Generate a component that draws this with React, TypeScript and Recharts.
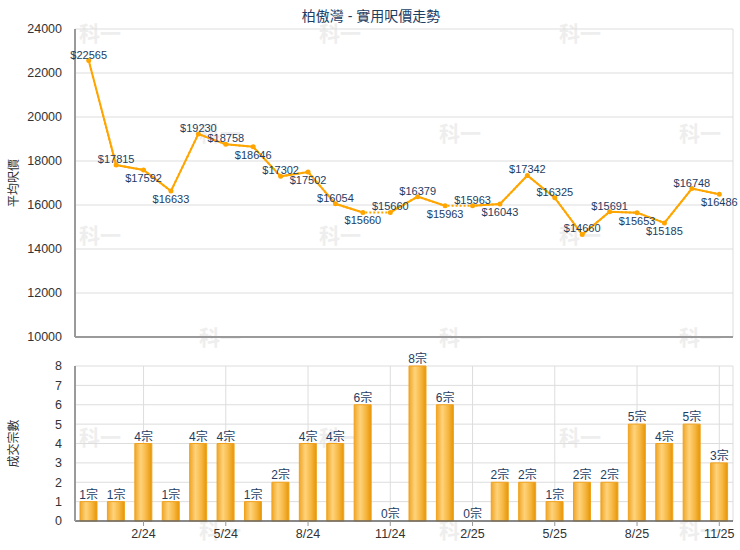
import { ComposedChart, Line, Bar, XAxis, YAxis, CartesianGrid, LabelList } from "recharts"

const MONTHS = [
  "12/23", "1/24", "2/24", "3/24", "4/24", "5/24", "6/24", "7/24", "8/24", "9/24", "10/24", "11/24",
  "12/24", "1/25", "2/25", "3/25", "4/25", "5/25", "6/25", "7/25", "8/25", "9/25", "10/25", "11/25",
]
const PRICES = [
  22565, 17815, 17592, 16633, 19230, 18758, 18646, 17302, 17502, 16054, 15660, 15660,
  16379, 15963, 15963, 16043, 17342, 16325, 14660, 15691, 15653, 15185, 16748, 16486,
]
const COUNTS = [1, 1, 4, 1, 4, 4, 1, 2, 4, 4, 6, 0, 8, 6, 0, 2, 2, 1, 2, 2, 5, 4, 5, 3]
const X_TICKS = ["2/24", "5/24", "8/24", "11/24", "2/25", "5/25", "8/25", "11/25"]
const PRICE_TICKS = [10000, 12000, 14000, 16000, 18000, 20000, 22000, 24000]
const COUNT_TICKS = [0, 1, 2, 3, 4, 5, 6, 7, 8]
// price labels drawn under the point instead of above
const LABEL_BELOW = [2, 3, 6, 8, 10, 13, 15, 20, 21, 23]

const ORANGE = "#FFA500"
const NAVY = "#1d3d63"
const FONT = "'Liberation Sans', Arial, 'Noto Sans CJK TC', sans-serif"

// a month with no deals carries the last price; the line into it is dotted
let seg = 0
const segOf = COUNTS.map((c, i) => {
  if (c === 0 && i > 0) seg++
  return seg
})
const SEG_KEYS = Array.from({ length: seg + 1 }, (_, k) => `s${k}`)

const data = MONTHS.map((month, i) => ({
  month,
  price: PRICES[i],
  count: COUNTS[i],
  [`s${segOf[i]}`]: PRICES[i],
}))

const WATERMARKS = [
  [100, 33], [340, 33], [580, 33],
  [220, 133], [460, 133], [700, 133],
  [100, 235], [340, 235], [580, 235],
  [220, 337], [460, 337], [700, 337],
  [100, 437], [340, 437], [580, 437],
  [220, 530], [460, 530], [700, 530],
]

const tickStyle = { fontSize: 12.5, fill: "#333", fontFamily: FONT }

function PriceLabel(props: any) {
  const { x, y, value, index } = props
  const below = LABEL_BELOW.includes(index)
  return (
    <text
      x={x}
      y={below ? y + 12 : y - 2}
      textAnchor="middle"
      fontSize={11}
      fill={NAVY}
      fontFamily={FONT}
    >
      ${value}
    </text>
  )
}

function CountLabel(props: any) {
  const { x, y, value } = props
  return (
    <text x={x} y={y - 3} textAnchor="middle" fontSize={12} fill={NAVY} fontFamily={FONT}>
      {value}宗
    </text>
  )
}

export default function App() {
  return (
    <div
      style={{
        position: "absolute",
        left: 0,
        top: 0,
        width: 740,
        height: 550,
        background: "#fff",
        fontFamily: FONT,
        overflow: "hidden",
      }}
    >
      <div
        style={{
          position: "absolute",
          top: 5,
          left: 0,
          width: 742,
          textAlign: "center",
          fontSize: 14,
          color: NAVY,
        }}
      >
        柏傲灣 - 實用呎價走勢
      </div>

      <svg
        width={740}
        height={550}
        style={{ position: "absolute", left: 0, top: 0, pointerEvents: "none" }}
      >
        {WATERMARKS.map(([x, y], i) => (
          <text
            key={i}
            x={x}
            y={y + 8}
            textAnchor="middle"
            fontSize={21}
            fontWeight="bold"
            fill="#eeeeee"
            fontFamily="'Noto Sans CJK TC', sans-serif"
          >
            科一
          </text>
        ))}
      </svg>

      <div style={{ position: "absolute", left: 0, top: 0 }}>
        <ComposedChart width={740} height={345} data={data} margin={{ top: 29, right: 7, bottom: 0, left: 0 }}>
          <CartesianGrid stroke="#dddddd" />
          <XAxis
            dataKey="month"
            scale="band"
            ticks={X_TICKS}
            interval={0}
            height={8}
            tick={false}
            tickLine={false}
            axisLine={{ stroke: "#9a9a9a", strokeWidth: 2 }}
          />
          <YAxis
            width={75}
            domain={[10000, 24000]}
            ticks={PRICE_TICKS}
            interval={0}
            tickLine={false}
            tickMargin={7}
            tick={tickStyle}
            axisLine={{ stroke: "#9a9a9a", strokeWidth: 2 }}
            label={{
              value: "平均呎價",
              angle: -90,
              position: "insideLeft",
              offset: 14,
              style: { textAnchor: "middle", fontSize: 12, fill: "#333", fontFamily: FONT },
            }}
          />
          <Line
            dataKey="price"
            stroke={ORANGE}
            strokeWidth={2}
            strokeDasharray="2 2"
            dot={{ r: 2.5, fill: ORANGE, stroke: "none" }}
            activeDot={false}
            isAnimationActive={false}
          >
            <LabelList dataKey="price" content={PriceLabel} />
          </Line>
          {SEG_KEYS.map((k) => (
            <Line
              key={k}
              dataKey={k}
              stroke={ORANGE}
              strokeWidth={2}
              dot={false}
              activeDot={false}
              connectNulls={false}
              isAnimationActive={false}
            />
          ))}
        </ComposedChart>
      </div>

      <div style={{ position: "absolute", left: 0, top: 345 }}>
        <ComposedChart width={740} height={205} data={data} margin={{ top: 21, right: 7, bottom: 0, left: 0 }}>
          <defs>
            <linearGradient id="barGrad" x1="0" y1="0" x2="1" y2="0">
              <stop offset="0%" stopColor="#efa62a" />
              <stop offset="35%" stopColor="#ffd37a" />
              <stop offset="70%" stopColor="#f6b640" />
              <stop offset="100%" stopColor="#e69505" />
            </linearGradient>
          </defs>
          <CartesianGrid stroke="#dddddd" />
          <XAxis
            dataKey="month"
            ticks={X_TICKS}
            interval={0}
            height={29}
            tickSize={5}
            tickMargin={3}
            tick={tickStyle}
            tickLine={{ stroke: "#999" }}
            axisLine={{ stroke: "#666", strokeWidth: 1.5 }}
          />
          <YAxis
            width={75}
            domain={[0, 8]}
            ticks={COUNT_TICKS}
            interval={0}
            tickLine={false}
            tickMargin={7}
            tick={tickStyle}
            axisLine={{ stroke: "#9a9a9a", strokeWidth: 2 }}
            label={{
              value: "成交宗數",
              angle: -90,
              position: "insideLeft",
              offset: 14,
              style: { textAnchor: "middle", fontSize: 12, fill: "#333", fontFamily: FONT },
            }}
          />
          <Bar
            dataKey="count"
            barSize={17}
            fill="url(#barGrad)"
            stroke="#f0a21c"
            strokeWidth={1}
            isAnimationActive={false}
          />
          <Line
            dataKey="count"
            stroke="none"
            dot={false}
            activeDot={false}
            isAnimationActive={false}
          >
            <LabelList dataKey="count" content={CountLabel} />
          </Line>
        </ComposedChart>
      </div>
    </div>
  )
}
